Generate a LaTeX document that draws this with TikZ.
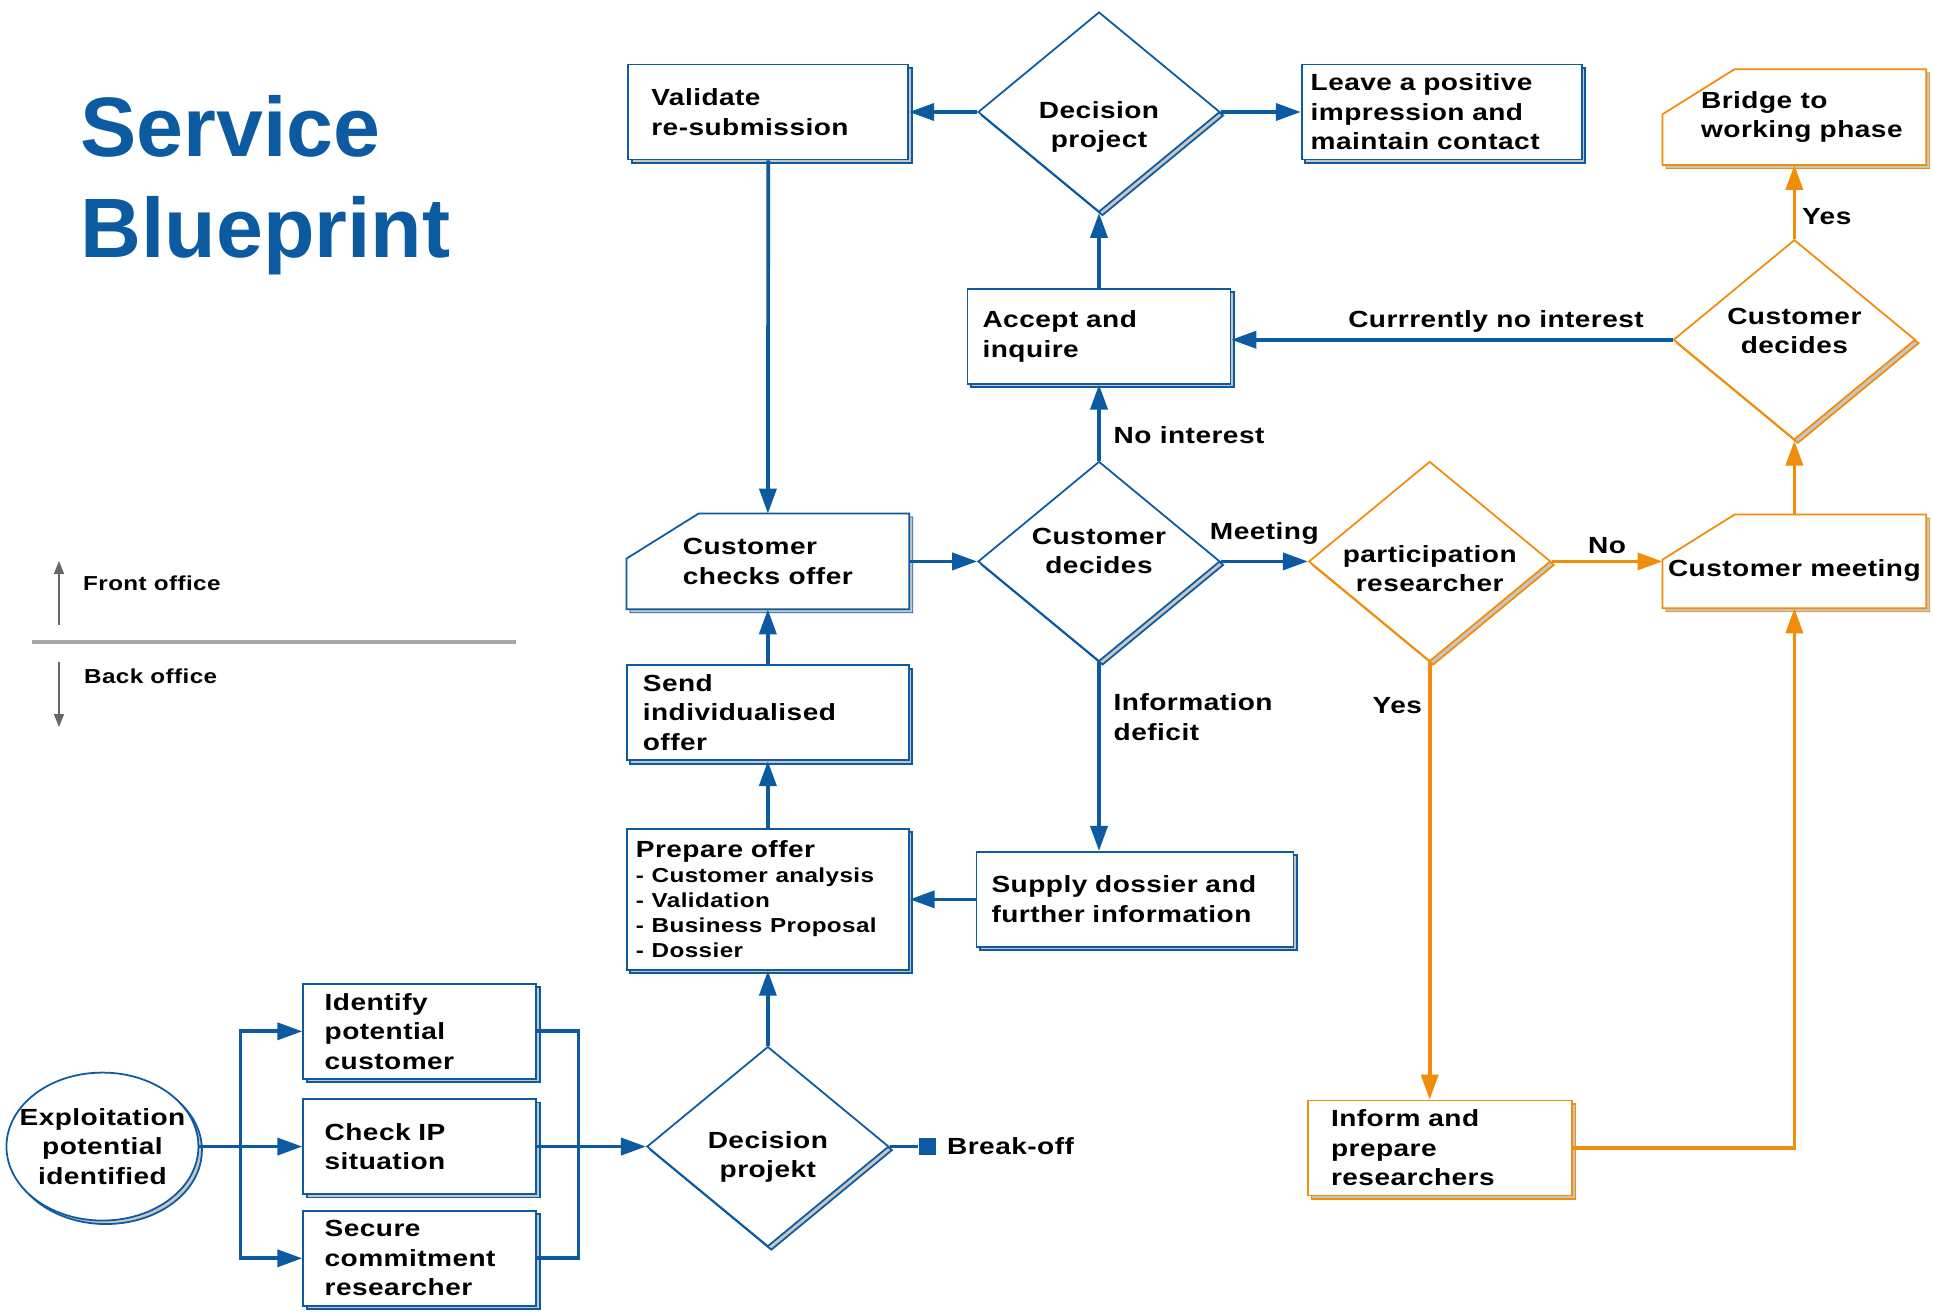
\documentclass[tikz,border=0pt]{standalone}
\usepackage{fontspec}
\setmainfont{Liberation Sans}[FakeStretch=1.2, LetterSpace=2]
\newfontfamily\titlefont{Liberation Sans}
\usetikzlibrary{positioning}
\usetikzlibrary{arrows.meta}
\usetikzlibrary{shapes.geometric}
\usetikzlibrary{shadows}
\usetikzlibrary{calc}
\tikzset{>={Triangle[width=3.4mm,length=5mm]}}
\definecolor{bpblue}{RGB}{12,90,160}
\definecolor{bporange}{RGB}{240,142,12}
\newcommand{\bodyfont}{\fontsize{13.3}{16.8}\selectfont\bfseries}
\newcommand{\smallbody}{\fontsize{11.5}{14.2}\selectfont}
\pgfdeclarelayer{background}
\pgfsetlayers{background,main}

\tikzset{
  boxshadow/.style={copy shadow={shadow xshift=0.07cm, shadow yshift=-0.07cm, fill=gray!45}},
  box/.style={draw=bpblue, line width=1pt, fill=white, boxshadow, inner xsep=0pt, inner ysep=1pt, align=left, font=\bodyfont, minimum height=1.9cm},
  cutbox/.style={inner sep=0pt, align=left, font=\bodyfont, minimum height=1.9cm},
  cutline/.style={line width=1pt, fill=white, boxshadow},
  choice/.style={diamond, aspect=1.21, draw=bpblue, line width=1pt, fill=white, boxshadow, minimum width=4.84cm, minimum height=4cm, inner sep=-8pt, align=center, font=\bodyfont},
  flow/.style={->, draw=bpblue, line width=2.1pt},
  oflow/.style={flow, draw=bporange},
  lbl/.style={font=\bodyfont},
}

\begin{document}
\begin{tikzpicture}[x=0.02cm, y=-0.02cm]
\useasboundingbox (0,0) rectangle (1933,1312);

% title and legend
\node (title) [anchor=north west, align=left, inner sep=0pt, text=bpblue, font=\titlefont\fontsize{48}{57.5}\selectfont\bfseries] at (80,95) {Service\\Blueprint};
\node (front) [anchor=west, font=\fontsize{11.5}{14}\selectfont\bfseries] at (77,583) {Front office};
\node (back) [anchor=west, font=\fontsize{11.5}{14}\selectfont\bfseries] at (78,676) {Back office};
\draw [gray!70, line width=2pt] (32,642) -- (516,642);
\draw [-{Triangle[width=2mm,length=2.6mm]}, black!60, line width=1pt] (59,625) -- (59,561);
\draw [-{Triangle[width=2mm,length=2.6mm]}, black!60, line width=1pt] (59,662) -- (59,727);

% front office
\node (decproj) [choice] at (1099,112) {\mbox{}\\[9.6pt]Decision\\project};
\node (validate) [box, left=1.36cm of decproj, minimum width=5.6cm, text width=4.68cm] {Validate\\re-submission};
\node (leave) [box, right=1.6cm of decproj, minimum width=5.6cm, text width=5.24cm] {Leave a positive\\impression and\\maintain contact};
\node (accept) [box, below=1.5cm of decproj, minimum width=5.26cm, text width=4.66cm] {Accept and\\inquire};
\node (custdec1) [choice, below=1.52cm of accept] {Customer\\decides\\[-4.6pt]\mbox{}};
\node (checks) [cutbox, left=1.36cm of custdec1, minimum width=5.64cm] {Customer\\checks offer};
\node (particip) [choice, draw=bporange, right=1.74cm of custdec1] {\mbox{}\\[1.2pt]participation\\researcher};
\node (meeting) [cutbox, right=2.22cm of particip, minimum width=5.26cm, minimum height=1.86cm] {\mbox{}\\[3.6pt]Customer meeting};
\node (custdec2) [choice, draw=bporange, above=1.48cm of meeting] {Customer\\decides\\[-6.8pt]\mbox{}};
\node (bridge) [cutbox, above=1.48cm of custdec2, minimum width=5.26cm] {\hspace*{0.3cm}Bridge to\\\hspace*{0.3cm}working phase};

% back office
\node (send) [box, below=1.1cm of checks, minimum width=5.64cm, text width=5.0cm] {Send\\individualised\\offer};
\node (prepare) [box, below=1.34cm of send, minimum width=5.64cm, text width=5.28cm, minimum height=2.82cm] {Prepare offer\\\smallbody - Customer analysis\\- Validation\\- Business Proposal\\- Dossier\par};
\node (supply) [box, right=1.32cm of prepare, minimum width=6.34cm, text width=5.74cm] {Supply dossier and\\further information};
\node (decprojk) [choice, below=1.5cm of prepare] {\mbox{}\\[4.8pt]Decision\\projekt};
\node (breaksq) [right=0.57cm of decprojk, fill=bpblue, minimum size=0.34cm, inner sep=0pt] {};
\node (breakoff) [lbl, right=0.1cm of breaksq] {Break-off};
\node (checkip) [box, left=2.18cm of decprojk, minimum width=4.66cm, text width=3.8cm] {Check IP\\situation};
\node (identify) [box, above=0.37cm of checkip, minimum width=4.66cm, text width=3.8cm] {Identify\\potential\\customer};
\node (secure) [box, below=0.3cm of checkip, minimum width=4.66cm, text width=3.8cm] {Secure\\commitment\\researcher};
\node (exploit) [ellipse, draw=bpblue, line width=1pt, fill=white, boxshadow, minimum width=3.84cm, minimum height=2.96cm, inner sep=-0.4cm, align=center, font=\bodyfont, left=2.06cm of checkip] {Exploitation\\potential\\identified};
\node (inform) [box, draw=bporange, minimum width=5.28cm, text width=4.36cm] at (1440,1148) {Inform and\\prepare\\researchers};

\coordinate (split) at ($(exploit.east)!0.4!(checkip.west)$);
\coordinate (join) at ($(checkip.east)!0.38!(decprojk.west)$);

% cut corner outlines
\begin{pgfonlayer}{background}
\foreach \n/\c in {checks/bpblue, meeting/bporange, bridge/bporange}
  \draw [cutline, draw=\c] ($(\n.north west)+(72,0)$) -- (\n.north east) -- (\n.south east) -- (\n.south west) -- ($(\n.north west)+(0,45)$) -- cycle;
\end{pgfonlayer}

% connectors
\draw [flow] (decproj) -- (validate);
\draw [flow] (decproj) -- (leave);
\draw [flow] (accept) -- (decproj);
\draw [flow] (validate) -- (checks);
\draw [flow] (custdec2) -- (custdec2 -| accept.east) node [lbl, above, pos=0.4] {Currrently no interest};
\draw [oflow] (custdec2) -- (bridge) node [lbl, right, pos=0.3] {Yes};
\draw [oflow] (meeting) -- (custdec2);
\draw [flow] (checks) -- (custdec1);
\draw [flow] (custdec1) -- (accept) node [lbl, right=4pt, pos=0.33] {No interest};
\draw [flow] (custdec1) -- (particip) node [lbl, above=5pt, midway] {Meeting};
\draw [oflow] (particip) -- (meeting) node [lbl, above, midway] {No};
\draw [oflow] (particip.south) -- (particip.south |- inform.north) node [lbl, left, pos=0.1] {Yes};
\draw [oflow] (inform) -| (meeting);
\draw [flow] (custdec1.south) -- (custdec1.south |- supply.north) node [lbl, right=4pt, pos=0.29, align=left] {Information\\deficit};
\draw [flow] (supply) -- (prepare);
\draw [flow] (prepare) -- (send);
\draw [flow] (send) -- (checks);
\draw [flow] (decprojk) -- (prepare);
\draw [draw=bpblue, line width=2.1pt] (decprojk) -- (breaksq);
\draw [flow] (exploit) -- (checkip);
\draw [flow] (split) |- (identify);
\draw [flow] (split) |- (secure);
\draw [draw=bpblue, line width=2.1pt] (identify) -| (join) |- (secure);
\draw [flow] (checkip) -- (decprojk);
\end{tikzpicture}
\end{document}
